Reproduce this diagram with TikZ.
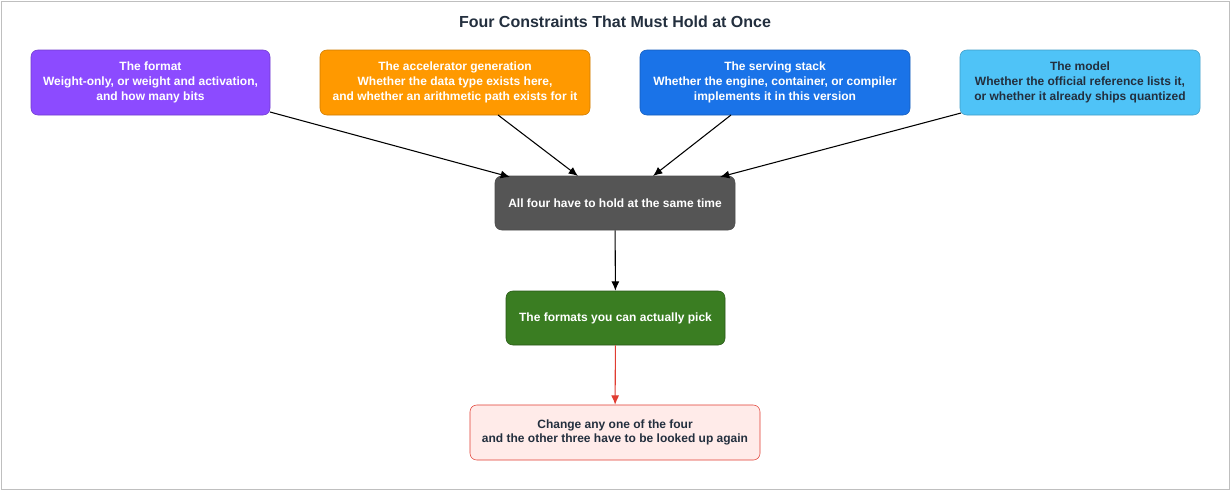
\documentclass[tikz,border=0pt]{standalone}
\usepackage{fontspec}
\setmainfont{Liberation Sans}
\usetikzlibrary{arrows.meta}
\definecolor{cpurple}{HTML}{8C4BFF}
\definecolor{corange}{HTML}{FF9900}
\definecolor{cblue}{HTML}{1A73E8}
\definecolor{clblue}{HTML}{4FC3F7}
\definecolor{cdark}{HTML}{555555}
\definecolor{cgreen}{HTML}{3A7D22}
\definecolor{cpink}{HTML}{FFEBE9}
\definecolor{cred}{HTML}{E03C31}
\definecolor{ctext}{HTML}{232F3E}
\begin{document}
\begin{tikzpicture}[x=0.75pt,y=-0.75pt,
  box/.style={draw, rounded corners=5pt, align=center, font=\fontsize{9}{11}\selectfont\bfseries, inner sep=0pt},
  arr/.style={-{Latex[length=7pt,width=6pt]}, line width=0.8pt}]
\useasboundingbox (0,0) rectangle (1230,490);
\draw[gray!50, line width=0.7pt] (1,1) rectangle (1229,489);
\node[font=\fontsize{12}{14}\selectfont\bfseries, text=ctext] (title) at (615,22) {Four Constraints That Must Hold at Once};
\node[box, fill=cpurple, draw=cpurple!80!black, text=white, minimum width=179.25pt, minimum height=48.75pt] (f) at (150.5,82.5) {The format\\Weight-only, or weight and activation,\\and how many bits};
\node[box, fill=corange, draw=corange!80!black, text=white, minimum width=202.5pt, minimum height=48.75pt] (a) at (455,82.5) {The accelerator generation\\Whether the data type exists here,\\and whether an arithmetic path exists for it};
\node[box, fill=cblue, draw=cblue!80!black, text=white, minimum width=202.5pt, minimum height=48.75pt] (s) at (775,82.5) {The serving stack\\Whether the engine, container, or compiler\\implements it in this version};
\node[box, fill=clblue, draw=clblue!80!black, text=ctext, minimum width=180pt, minimum height=48.75pt] (m) at (1080,82.5) {The model\\Whether the official reference lists it,\\or whether it already ships quantized};
\node[box, fill=cdark, draw=black!70, text=white, minimum width=180pt, minimum height=40.5pt] (c) at (615,203) {All four have to hold at the same time};
\node[box, fill=cgreen, draw=cgreen!70!black, text=white, minimum width=164.25pt, minimum height=40.5pt] (g) at (615.5,318) {The formats you can actually pick};
\node[box, fill=cpink, draw=cred, text=ctext, minimum width=217.5pt, minimum height=41.25pt] (r) at (615,432.5) {Change any one of the four\\and the other three have to be looked up again};
\coordinate (f1) at (270,112); \coordinate (c1) at (510,177);
\coordinate (a1) at (498,115); \coordinate (c2) at (578,176);
\coordinate (s1) at (731,115); \coordinate (c3) at (653,176);
\coordinate (m1) at (961,113); \coordinate (c4) at (720,177);
\draw[arr] (f1) -- (c1);
\draw[arr] (a1) -- (c2);
\draw[arr] (s1) -- (c3);
\draw[arr] (m1) -- (c4);
\draw[arr] (c) -- (g);
\draw[arr, draw=cred, -{Latex[length=7pt,width=6pt,fill=cred]}] (g) -- (r);
\end{tikzpicture}
\end{document}
